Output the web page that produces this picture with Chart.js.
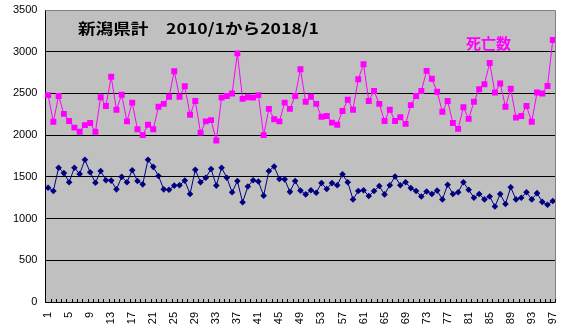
<!DOCTYPE html>
<html>
<head>
<meta charset="utf-8">
<script src="https://cdn.jsdelivr.net/npm/chart.js@4/dist/chart.umd.min.js"></script>
<style>
    html, body { margin: 0; padding: 0; background: #fff; }
    #wrap { width: 576px; height: 334px; position: relative; }
</style>
</head>
<body>
<div id="wrap"><canvas id="chart"></canvas></div>
<script>
// months since 2010/1 (1 .. 97)
const months = Array.from({ length: 97 }, (_, i) => String(i + 1));

// 死亡数 (magenta)
const deaths = [
    2480, 2160, 2470, 2255, 2170, 2090, 2040, 2120, 2145, 2040,
    2455, 2350, 2700, 2305, 2485, 2165, 2390, 2070, 2000, 2125,
    2070, 2340, 2375, 2460, 2765, 2460, 2585, 2245, 2410, 2030,
    2165, 2180, 1935, 2450, 2470, 2500, 2980, 2435, 2455, 2450,
    2480, 2000, 2315, 2190, 2165, 2390, 2315, 2470, 2790, 2400,
    2460, 2375, 2220, 2230, 2150, 2125, 2290, 2425, 2305, 2670,
    2850, 2410, 2530, 2375, 2170, 2305, 2170, 2215, 2135, 2360,
    2470, 2530, 2770, 2675, 2520, 2280, 2410, 2145, 2075, 2335,
    2195, 2400, 2550, 2610, 2865, 2510, 2620, 2340, 2555, 2210,
    2230, 2350, 2160, 2510, 2500, 2590, 3140
];

// second series (navy, no label in the original)
const births = [
    1370, 1330, 1610, 1545, 1435, 1610, 1535, 1705, 1555, 1430,
    1570, 1460, 1455, 1350, 1500, 1435, 1580, 1450, 1410, 1705,
    1620, 1510, 1350, 1345, 1395, 1400, 1455, 1295, 1585, 1435,
    1490, 1595, 1395, 1610, 1490, 1315, 1450, 1195, 1385, 1460,
    1445, 1275, 1570, 1625, 1475, 1470, 1320, 1450, 1335, 1290,
    1340, 1310, 1425, 1355, 1425, 1400, 1530, 1435, 1230, 1330,
    1340, 1270, 1330, 1390, 1290, 1400, 1505, 1400, 1435, 1365,
    1330, 1265, 1325, 1295, 1335, 1230, 1405, 1295, 1315, 1435,
    1345, 1250, 1295, 1230, 1265, 1145, 1295, 1175, 1375, 1230,
    1250, 1315, 1230, 1305, 1200, 1165, 1210
];

const yMin = 0;
const yMax = 3500;
const yStep = 500;
const labelEvery = 4;

const chartTitle = '新潟県計　2010/1から2018/1';
const deathsLabel = '死亡数';

// plot background, gray frame, inside tick marks and in-plot texts
const excelLook = {
    id: 'excelLook',
    beforeDraw(chart) {
        const { ctx, chartArea: a } = chart;
        ctx.save();
        ctx.fillStyle = '#c0c0c0';
        ctx.fillRect(a.left, a.top, a.right - a.left, a.bottom - a.top);
        ctx.restore();
    },
    afterDraw(chart) {
        const { ctx, chartArea: a } = chart;
        ctx.save();
        // gray frame top / right
        ctx.strokeStyle = '#808080';
        ctx.lineWidth = 1;
        ctx.beginPath();
        ctx.moveTo(Math.round(a.left) + 0.5, Math.round(a.top) + 0.5);
        ctx.lineTo(Math.round(a.right) + 0.5, Math.round(a.top) + 0.5);
        ctx.lineTo(Math.round(a.right) + 0.5, Math.round(a.bottom) + 0.5);
        ctx.stroke();

        // small tick marks between categories, pointing up
        const n = months.length;
        const step = (a.right - a.left) / n;
        ctx.strokeStyle = '#000';
        ctx.beginPath();
        for (let i = 0; i <= n; i++) {
            const x = Math.round(a.left + i * step) + 0.5;
            ctx.moveTo(x, Math.round(a.bottom));
            ctx.lineTo(x, Math.round(a.bottom) - 3);
        }
        ctx.stroke();

        // title inside the plot
        ctx.fillStyle = '#000';
        ctx.font = 'bold 15px "Noto Sans CJK JP"';
        ctx.textBaseline = 'middle';
        ctx.textAlign = 'left';
        const tw = ctx.measureText(chartTitle).width;
        const want = 241;
        ctx.translate(78, 28);
        ctx.scale(want / tw, 1);
        ctx.fillText(chartTitle, 0, 0);
        ctx.restore();

        ctx.save();
        ctx.fillStyle = '#ff00ff';
        ctx.font = 'bold 15px "Noto Sans CJK JP"';
        ctx.textBaseline = 'middle';
        ctx.textAlign = 'left';
        ctx.fillText(deathsLabel, 466, 43);
        ctx.restore();
    }
};

new Chart(document.getElementById('chart'), {
    type: 'line',
    data: {
        labels: months,
        datasets: [
            {
                label: deathsLabel,
                data: deaths,
                borderColor: '#ff00ff',
                backgroundColor: '#ff00ff',
                borderWidth: 1,
                pointStyle: 'rect',
                pointRadius: 4.2,
                pointBorderWidth: 0,
                tension: 0
            },
            {
                label: '',
                data: births,
                borderColor: '#000080',
                backgroundColor: '#000080',
                borderWidth: 1,
                pointStyle: 'rectRot',
                pointRadius: 3.3,
                pointBorderWidth: 0,
                tension: 0
            }
        ]
    },
    options: {
        responsive: true,
        maintainAspectRatio: false,
        animation: false,
        events: [],
        layout: { padding: { left: 5, right: 5, top: 2, bottom: 0 } },
        plugins: {
            legend: { display: false },
            title: { display: false },
            tooltip: { enabled: false }
        },
        scales: {
            x: {
                type: 'category',
                offset: true,
                grid: { display: false, drawTicks: false },
                border: { display: true, color: '#000', width: 1 },
                afterFit: (s) => { s.height = 32; },
                ticks: {
                    autoSkip: false,
                    minRotation: 90,
                    maxRotation: 90,
                    padding: 10,
                    color: '#000',
                    font: { family: 'Liberation Sans', size: 11 },
                    callback: (val, idx) => (idx % labelEvery === 0 ? months[idx] : '')
                }
            },
            y: {
                min: yMin,
                max: yMax,
                afterFit: (s) => { s.paddingTop = 10; s.paddingBottom = 8; },
                grid: {
                    drawTicks: false,
                    color: (c) => (c.tick && c.tick.value === yMax ? 'rgba(0,0,0,0)' : '#000'),
                    lineWidth: 1
                },
                border: { display: true, color: '#000', width: 1 },
                ticks: {
                    stepSize: yStep,
                    padding: 8,
                    color: '#000',
                    font: { family: 'Liberation Sans', size: 11 },
                    callback: (v) => String(v)
                }
            }
        }
    },
    plugins: [excelLook]
});
</script>
</body>
</html>
